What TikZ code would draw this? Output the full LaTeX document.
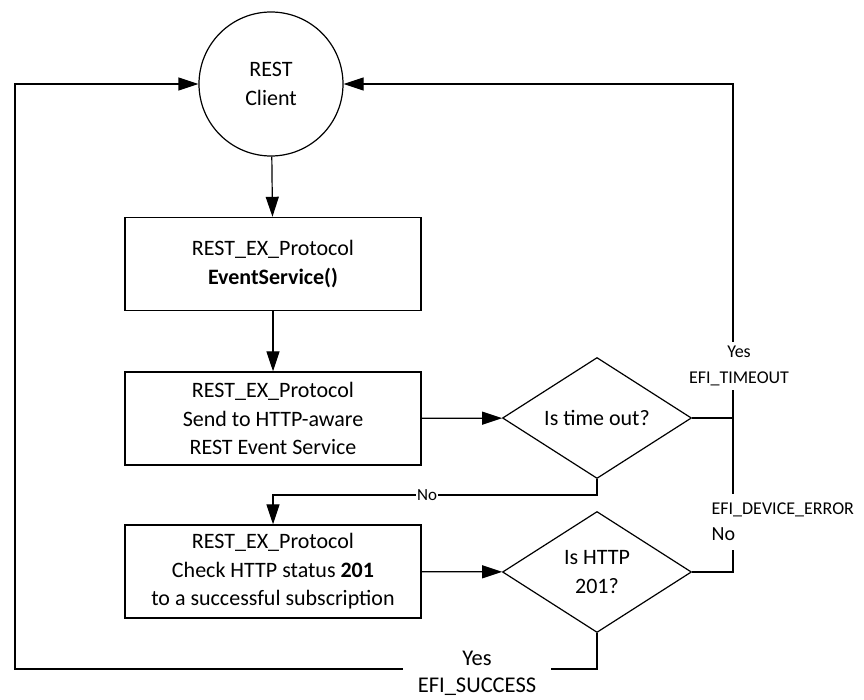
\documentclass[tikz,border=0pt]{standalone}
\usepackage{fontspec}
\setmainfont{Carlito}
\usetikzlibrary{arrows.meta,shapes.geometric}
\begin{document}
\begin{tikzpicture}[x=1pt, y=-1pt, >={Triangle[length=20pt,width=13pt]}, line width=1.2pt,
    txt/.style={font=\fontsize{22}{28.5}\selectfont, align=center},
    client/.style={draw, circle, minimum size=144pt, inner sep=0pt, txt},
    box/.style={draw, line width=1.4pt, minimum width=296pt, minimum height=93pt, inner sep=0pt, txt},
    decision/.style={draw, diamond, minimum width=189pt, minimum height=121pt, inner sep=0pt, txt},
    lbl/.style={fill=white, font=\fontsize{18}{26}\selectfont, align=center}]
    \useasboundingbox (0,0) rectangle (864,700);
    % nodes
    \node[client] (client) at (271,84) {REST\\Client};
    \node[box] (evt) at (273,264) {REST\_EX\_Protocol\\\textbf{EventService()}};
    \node[box] (send) at (273,418.5) {REST\_EX\_Protocol\\Send to HTTP-aware\\REST Event Service};
    \node[box] (chk) at (273,571.5) {REST\_EX\_Protocol\\Check HTTP status \textbf{201}\\to a successful subscription};
    \node[decision] (tmo) at (597,418) {Is time out?};
    \node[decision] (http) at (597,572) {Is HTTP\\201?};
    \coordinate (rj) at (733,418);
    \coordinate (nj) at (597,495);
    \coordinate (lj) at (15,669);
    % connectors
    \draw[->] (client) -- (evt);
    \draw[->] (evt) -- (send);
    \draw[->] (send) -- (tmo);
    \draw[->] (chk) -- (http);
    \draw[->] (tmo.south) -- (nj) -| (chk.north);
    \draw[->] (tmo.east) -- (rj) |- (client.east);
    \draw (http.east) -| (rj);
    \draw[->] (http.south) |- (lj) |- (client.west);
    % labels
    \node[lbl, inner sep=1pt, font=\fontsize{17}{20}\selectfont] at (427,495) {No};
    \node[lbl, inner xsep=1pt, inner ysep=4pt] at (739,366) {Yes\\EFI\_TIMEOUT};
    \node[lbl, align=left, anchor=west, inner xsep=1pt, inner ysep=9pt] at (710,522) {EFI\_DEVICE\_ERROR\\{\fontsize{20}{20}\selectfont No}};
    \node[lbl, inner xsep=15pt, inner ysep=2pt, font=\fontsize{22.5}{27}\selectfont] at (477,673) {Yes\\EFI\_SUCCESS};
\end{tikzpicture}
\end{document}
